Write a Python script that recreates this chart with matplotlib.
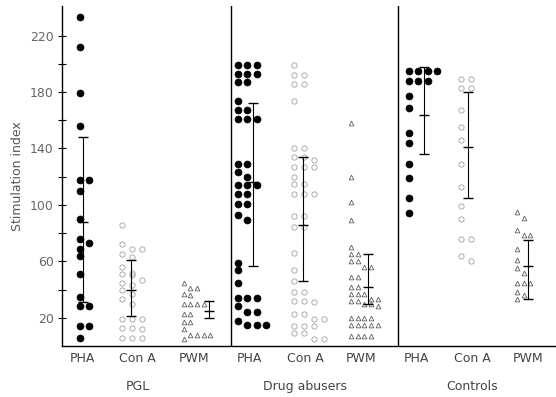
import matplotlib.pyplot as plt

groups = ['PGL', 'Drug abusers', 'Controls']
categories = ['PHA', 'Con A', 'PWM']

# stimulation index values
pgl_pha = [233, 212, 179, 156, 118, 118, 110, 90, 76, 73, 69, 64, 51, 35, 28, 28, 14, 14, 6]
pgl_cona = [86, 72, 69, 69, 65, 63, 56, 52, 51, 50, 47, 45, 43, 40, 37, 33, 30,
            19, 19, 19, 13, 13, 12, 6, 6, 6]
pgl_pwm = [45, 41, 41, 37, 36, 30, 30, 30, 30, 23, 23, 17, 17, 12, 8, 8, 8, 8, 5]

drug_pha = [199, 199, 199, 193, 193, 193, 187, 187, 174, 167, 167, 161, 161, 161,
            129, 129, 123, 120, 114, 114, 114, 108, 108, 101, 101, 93, 89, 59, 54,
            45, 34, 34, 34, 28, 24, 24, 18, 15, 15, 15]
drug_cona = [199, 192, 192, 186, 186, 174, 140, 140, 134, 134, 132, 127, 127, 127,
             120, 115, 115, 108, 108, 108, 92, 92, 84, 84, 66, 54, 46, 38, 38, 32,
             32, 31, 23, 23, 19, 19, 14, 14, 14, 9, 9, 5, 5]
drug_pwm = [158, 120, 102, 89, 70, 65, 65, 60, 60, 56, 56, 49, 49, 42, 42, 37, 37,
            37, 33, 33, 32, 32, 30, 30, 28, 20, 20, 20, 20, 15, 15, 15, 15, 15,
            7, 7, 7, 7]

ctrl_pha = [195, 195, 195, 195, 188, 188, 188, 177, 169, 151, 144, 129, 119, 105, 94]
ctrl_cona = [189, 189, 183, 183, 167, 155, 146, 129, 113, 99, 90, 76, 76, 64, 60]
ctrl_pwm = [95, 91, 82, 79, 79, 69, 61, 55, 52, 45, 45, 45, 38, 36, 33]

# mean and range of the error bars
bar_mean = [88, 40, 25, 116, 86, 42, 164, 141, 57]
bar_lo = [31, 21, 20, 57, 46, 30, 136, 105, 33]
bar_hi = [148, 61, 32, 172, 134, 65, 198, 180, 75]

columns = [pgl_pha, pgl_cona, pgl_pwm, drug_pha, drug_cona, drug_pwm,
           ctrl_pha, ctrl_cona, ctrl_pwm]

# layout
start_off = [-0.04, -0.28, -0.18, -0.21, -0.2, -0.18, -0.14, -0.2, -0.2]
bar_off = [0.02, -0.12, 0.28, 0.06, -0.04, 0.13, 0.13, -0.08, 0.0]
styles = [
    dict(marker='o', ms=5, mfc='black', mec='black', mew=0.5),
    dict(marker='o', ms=3.8, mfc='none', mec='#a0a0a0', mew=0.6),
    dict(marker='^', ms=3.4, mfc='none', mec='#606060', mew=0.6),
]
steps = [0.17, 0.18, 0.12]

fig = plt.figure(figsize=(5.56, 3.97), dpi=100)
ax = fig.add_axes([62 / 556, 51 / 397, 1 - 62 / 556, 340 / 397])

for i, vals in enumerate(columns):
    kind = i % 3
    st = styles[kind]
    xs, ys = [], []
    row_top, k = None, 0
    for v in sorted(vals, reverse=True):
        if row_top is None or row_top - v > 4:
            row_top, k = v, 0
        else:
            k += 1
        xs.append(i + start_off[i] + k * steps[kind])
        ys.append(v)
    ax.plot(xs, ys, linestyle='none', **st)
    m = bar_mean[i]
    ax.errorbar(i + bar_off[i], m, yerr=[[m - bar_lo[i]], [bar_hi[i] - m]],
                fmt='_', color='black', ms=7, mew=1.0, elinewidth=0.8,
                capsize=3.5, capthick=0.8)

for xd in [2.67, 5.66]:
    ax.axvline(xd, color='black', lw=1.0)

ax.set_xlim(-0.36, 8.5)
ax.set_ylim(0, 241)
ax.spines['top'].set_visible(False)
ax.spines['right'].set_visible(False)
ax.spines['left'].set_linewidth(1.0)
ax.spines['bottom'].set_linewidth(1.0)
ax.set_xticks([])
ax.set_yticks([20, 60, 100, 140, 180, 220])
ax.set_yticks([40, 80, 120, 160, 200], minor=True)
ax.tick_params(axis='y', which='both', direction='inout', length=6, width=0.8,
               labelsize=9, labelcolor='#666666', pad=3)
ax.set_ylabel('Stimulation index', fontsize=9, color='#555555', labelpad=4)

for i in range(9):
    ax.text(i, -9, categories[i % 3], ha='center', va='center', fontsize=9,
            color='#444444')
for g, name in enumerate(groups):
    ax.text(3 * g + 1, -29, name, ha='center', va='center', fontsize=9,
            color='#444444')

fig.savefig('out.png', dpi=100)
